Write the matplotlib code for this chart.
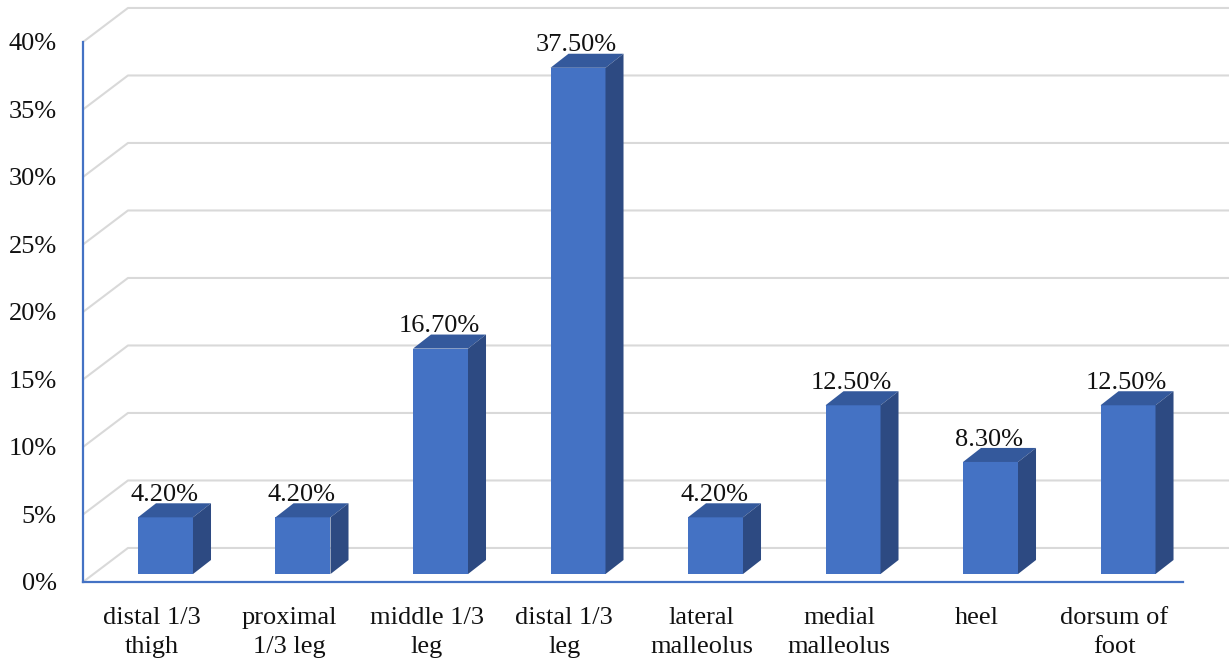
import matplotlib.pyplot as plt
from matplotlib.patches import Polygon

plt.rcParams["font.family"] = ["Liberation Serif", "DejaVu Serif"]

# Lesion site distribution
sites = ["distal 1/3\nthigh", "proximal\n1/3 leg", "middle 1/3\nleg", "distal 1/3\nleg",
         "lateral\nmalleolus", "medial\nmalleolus", "heel", "dorsum of\nfoot"]
percent = [4.2, 4.2, 16.7, 37.5, 4.2, 12.5, 8.3, 12.5]
yticks = [0, 5, 10, 15, 20, 25, 30, 35, 40]

front_col = "#4472C4"
top_col = "#34599C"
side_col = "#2D4A82"
grid_col = "#D9D9D9"
fs = 19

# pseudo-3D geometry (category units / percent units)
wall_dx, wall_dy = 0.327, 2.52   # back wall offset
bar_l, bar_r = -0.10, 0.30       # front face relative to slot centre
bar_base = 0.59                  # bar front sits a bit into the floor
side_dx, side_dy = 0.131, 1.04   # bar depth

fig = plt.figure(figsize=(12.29, 6.66), dpi=100)
ax = fig.add_axes([0, 0, 1, 1])
ax.set_xlim(-1.1036, 7.8345)
ax.set_ylim(-6.222, 43.111)
ax.axis("off")

# floor + back wall gridlines
for v in yticks:
    ax.plot([-0.5, -0.5 + wall_dx, 7.9], [v, v + wall_dy, v + wall_dy],
            color=grid_col, lw=1.5, zorder=1, solid_capstyle="butt")
    ax.text(-0.69, v - 0.15, f"{v}%", ha="right", va="center", fontsize=fs, color="#111111")

# axes lines
ax.plot([-0.5, -0.5], [0, 40], color=front_col, lw=1.6, zorder=2)
ax.plot([-0.5, 7.5], [0, 0], color=front_col, lw=1.6, zorder=2)

for i, (name, p) in enumerate(zip(sites, percent)):
    x1, x2 = i + bar_l, i + bar_r
    y1, y2 = bar_base, bar_base + p
    front = Polygon([(x1, y1), (x2, y1), (x2, y2), (x1, y2)], closed=True,
                    fc=front_col, ec="none", zorder=3)
    top = Polygon([(x1, y2), (x2, y2), (x2 + side_dx, y2 + side_dy), (x1 + side_dx, y2 + side_dy)],
                  closed=True, fc=top_col, ec="none", zorder=3)
    side = Polygon([(x2, y1), (x2 + side_dx, y1 + side_dy), (x2 + side_dx, y2 + side_dy), (x2, y2)],
                   closed=True, fc=side_col, ec="none", zorder=3)
    for patch in (front, top, side):
        ax.add_patch(patch)
    ax.text(i + 0.09, y2 + side_dy - 0.2, f"{p:.2f}%", ha="center", va="bottom",
            fontsize=fs, color="#111111", zorder=4)
    ax.text(i, -1.85, name, ha="center", va="top", fontsize=fs, color="#111111",
            linespacing=1.4)

fig.savefig("out.png", dpi=100)
